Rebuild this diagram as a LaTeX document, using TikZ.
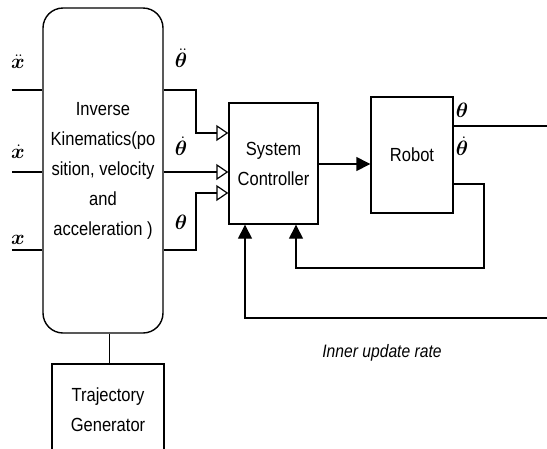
\documentclass[tikz,border=0pt]{standalone}
\usepackage{fontspec}
\setmainfont{Liberation Sans}[FakeStretch=0.87]
\usepackage{amsmath}
\usepackage{bm}
\usetikzlibrary{arrows.meta}
\usetikzlibrary{positioning}

\begin{document}
\begin{tikzpicture}[
        x=1pt, y=-1pt,
        every node/.style={font=\fontsize{19}{30}\selectfont},
        box/.style={draw, line width=1.4pt, align=center, inner sep=0pt},
        ikbox/.style={box, rounded corners=20pt, minimum width=120pt, minimum height=325pt},
        mlabel/.style={font=\fontsize{22}{24}\selectfont, inner sep=0pt},
        wire/.style={line width=1.4pt},
        openarrow/.style={wire, -{Triangle[open, length=12pt, width=16pt, line width=1.2pt]}},
        fullarrow/.style={wire, -{Triangle[length=14pt, width=14pt]}}
    ]
    \useasboundingbox (0,0) rectangle (547,448);
    \clip (0,0) rectangle (547,448);

    % Nodes
    \node[ikbox] (ik) at (103,170.5) {Inverse\\Kinematics(po\\sition, velocity\\and\\acceleration )};
    \node[box, minimum width=89pt, minimum height=121pt] (sc) at (273.5,163.5) {System\\Controller};
    \node[box, minimum width=82pt, minimum height=116pt] (robot) at (412,155) {Robot};
    \node[box, minimum width=112pt, minimum height=92pt] (traj) at (108,410) {Trajectory\\Generator};
    \node[font=\itshape\fontsize{18}{20}\selectfont] (rate) at (382,353) {Inner update rate};

    % Input and output labels
    \node[mlabel] (xdd) at (18,62) {$\bm{\ddot{x}}$};
    \node[mlabel] (xd) at (18,152) {$\bm{\dot{x}}$};
    \node[mlabel] (x) at (18,240) {$\bm{x}$};
    \node[mlabel] (thdd) at (181,58) {$\bm{\ddot{\theta}}$};
    \node[mlabel] (thd) at (181,146) {$\bm{\dot{\theta}}$};
    \node[mlabel] (th) at (181,222) {$\bm{\theta}$};
    \node[mlabel] (qout) at (462,110) {$\bm{\theta}$};
    \node[mlabel] (qdout) at (462,146) {$\bm{\dot{\theta}}$};

    % Free ends
    \coordinate (in1) at (12,90);
    \coordinate (in2) at (12,172);
    \coordinate (in3) at (12,250);
    \coordinate (out1) at (547,126);
    \coordinate (out2) at (547,318);

    % Arrows
    \draw[wire] (in1) -- (in1 -| ik.west);
    \draw[wire] (in2) -- (in2 -| ik.west);
    \draw[wire] (in3) -- (in3 -| ik.west);
    \draw[openarrow] (ik.east |- in1) -| (196,133) -- (sc.west |- 0,133);
    \draw[openarrow] (ik.east |- in2) -- (sc.west |- in2);
    \draw[openarrow] (ik.east |- in3) -| (196,193) -- (sc.west |- 0,193);
    \draw[fullarrow] (sc.east |- 0,164) -- (robot.west |- 0,164);
    \draw[wire] (robot.east |- out1) -- (out1);
    \draw[fullarrow] (robot.east |- 0,184) -| (484,268) -| (sc.south -| 296,0);
    \draw[fullarrow] (out2) -| (sc.south -| 245,0);
    \draw[line width=0.8pt] (ik.south -| 109,0) -- (traj.north -| 109,0);

\end{tikzpicture}
\end{document}
